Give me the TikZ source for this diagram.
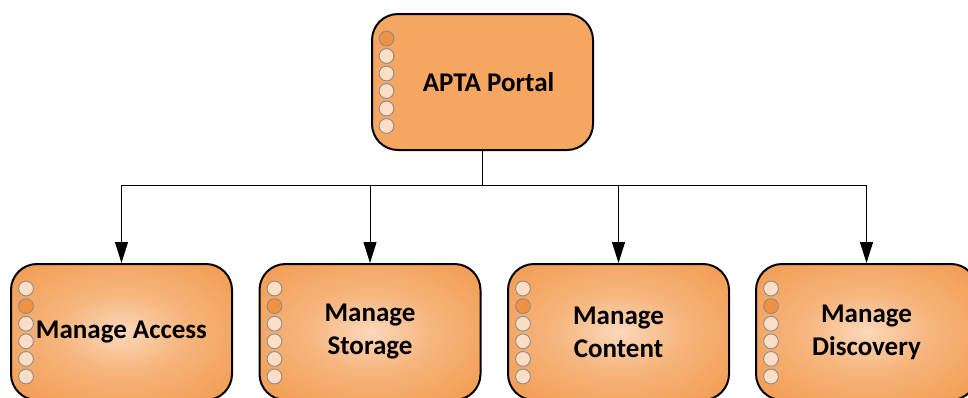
\documentclass[tikz,border=0pt]{standalone}
\usepackage{fontspec}
\setmainfont{Carlito}
\usetikzlibrary{arrows.meta}

\definecolor{boxorange}{RGB}{245,166,96}
\definecolor{edgeorange}{RGB}{242,153,76}
\definecolor{midorange}{RGB}{246,182,126}
\definecolor{coreorange}{RGB}{251,216,186}
\definecolor{dotpale}{RGB}{252,222,198}
\definecolor{dotdark}{RGB}{240,146,66}
\definecolor{dotrim}{RGB}{140,140,140}

\pgfdeclareradialshading{boxglow}{\pgfpoint{0bp}{0bp}}{%
  color(0bp)=(coreorange); color(14bp)=(midorange);
  color(36bp)=(edgeorange); color(50bp)=(edgeorange)}

\tikzset{
  basebox/.style={draw=black, line width=2pt, rounded corners=26pt,
    minimum width=221pt, minimum height=136pt, align=center,
    font=\fontsize{27pt}{33pt}\selectfont\bfseries, inner sep=0pt},
  rootbox/.style={basebox, fill=boxorange},
  taskbox/.style={basebox, shading=boxglow},
  dot/.style={draw=dotrim, line width=0.9pt, fill=dotpale},
  hotdot/.style={draw=dotrim, line width=0.9pt, fill=dotdark},
  link/.style={draw=black, line width=1pt},
  arrowlink/.style={link, -{Triangle[width=13pt,length=21pt]}}
}

\begin{document}
\begin{tikzpicture}[x=1pt,y=-1pt]
  \useasboundingbox (0,0) rectangle (968,397);
  \clip (0,0) rectangle (968,397);

  % boxes
  \node[rootbox] (portal) at (482.5,82) {\hspace*{12pt}APTA Portal};
  \node[taskbox] (access)    at (121.5,332) {Manage Access};
  \node[taskbox] (storage)   at (370,332)   {Manage\\Storage};
  \node[taskbox] (content)   at (618.5,332) {Manage\\Content};
  \node[taskbox] (discovery) at (866.5,332) {Manage\\Discovery};

  % column of dots along the left side of each box
  \foreach \i in {0,...,5} {
    \ifnum\i=0
      \path[hotdot] ([xshift=15.5pt,yshift=-25.5pt]portal.north west) ++(0,17.5*\i) circle (7.4pt);
    \else
      \path[dot] ([xshift=15.5pt,yshift=-25.5pt]portal.north west) ++(0,17.5*\i) circle (7.4pt);
    \fi
  }
  \foreach \b in {access,storage,content,discovery} {
    \foreach \i in {0,...,5} {
      \ifnum\i=1
        \path[hotdot] ([xshift=16pt,yshift=-25.5pt]\b.north west) ++(0,17.6*\i) circle (7.4pt);
      \else
        \path[dot] ([xshift=16pt,yshift=-25.5pt]\b.north west) ++(0,17.6*\i) circle (7.4pt);
      \fi
    }
  }

  % connectors
  \draw[link] (portal.south) -- ++(0,34) coordinate (bus);
  \foreach \b in {access,storage,content,discovery}
    \draw[arrowlink] (bus) -| (\b.north);
\end{tikzpicture}
\end{document}
